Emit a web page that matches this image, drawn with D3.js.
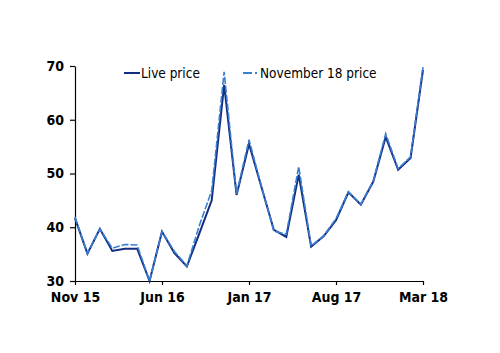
<!DOCTYPE html>
<html>
<head>
<meta charset="utf-8">
<script src="https://cdn.jsdelivr.net/npm/d3@7"></script>
<style>
  body { margin: 0; background: #fff; }
  svg text { font-family: "DejaVu Sans Condensed", "DejaVu Sans", sans-serif; font-stretch: condensed; }
  .axis text { font-size: 14px; font-weight: bold; fill: #000; }
  .axis path, .axis line { stroke: #000; stroke-width: 1.2; }
  .legend text { font-size: 13.5px; fill: #000; }
</style>
</head>
<body>
<div id="chart"></div>
<script>
// monthly points, Nov 15 .. Mar 18
var months = d3.range(0, 29);
var tickMonths = [0, 7, 14, 21, 28];
var tickLabels = ["Nov 15", "Jun 16", "Jan 17", "Aug 17", "Mar 18"];
var yTicks = [30, 40, 50, 60, 70];

var livePrice = [41.7, 35.1, 39.7, 35.6, 36.0, 36.0, 30.0, 39.2, 35.2, 32.7,
                 38.8, 45.0, 66.5, 46.0, 55.5, 47.5, 39.5, 38.2, 49.8, 36.4,
                 38.3, 41.3, 46.5, 44.2, 48.5, 56.8, 50.7, 52.9, 69.3];
var novPrice  = [41.9, 35.1, 39.7, 36.1, 36.8, 36.7, 30.0, 39.2, 35.5, 32.8,
                 40.3, 46.8, 68.9, 46.2, 56.3, 47.6, 39.3, 38.7, 51.3, 36.5,
                 38.4, 41.6, 46.6, 44.3, 48.6, 57.4, 50.9, 53.1, 69.8];

var seriesNames = ["Live price", "November 18 price"];

var margin = {top: 66, right: 77, bottom: 72, left: 75},
    width = 500 - margin.left - margin.right,
    height = 353 - margin.top - margin.bottom;

var svg = d3.select("#chart").append("svg")
    .attr("width", 500)
    .attr("height", 353)
    .append("g")
    .attr("transform", "translate(" + margin.left + "," + margin.top + ")");

var x = d3.scaleLinear().domain([0, 28]).range([0, width]);
var y = d3.scaleLinear().domain([30, 70]).range([height, 0]);

svg.append("g")
    .attr("class", "axis")
    .attr("transform", "translate(0," + height + ")")
    .call(d3.axisBottom(x).tickValues(tickMonths)
        .tickFormat(function(d, i) { return tickLabels[i]; })
        .tickSize(4).tickSizeOuter(0).tickPadding(7));

svg.append("g")
    .attr("class", "axis")
    .call(d3.axisLeft(y).tickValues(yTicks).tickSize(5).tickSizeOuter(0).tickPadding(6));

var line = d3.line()
    .x(function(d, i) { return x(months[i]); })
    .y(function(d) { return y(d); });

svg.append("path")
    .datum(livePrice)
    .attr("fill", "none")
    .attr("stroke", "#132d80")
    .attr("stroke-width", 2)
    .attr("d", line);

// the dashed line sits on top of the live one
svg.append("path")
    .datum(novPrice)
    .attr("fill", "none")
    .attr("stroke", "#3a7fd2")
    .attr("stroke-width", 1.6)
    .attr("stroke-dasharray", "7,2")
    .attr("d", line);

// legend
var legend = svg.append("g").attr("class", "legend");
var legendX = [49, 168];
var colors = ["#132d80", "#3a7fd2"];
var dashes = [null, "9,3,2,3"];
seriesNames.forEach(function(name, i) {
    var g = legend.append("g").attr("transform", "translate(" + legendX[i] + ",7)");
    g.append("line")
        .attr("x1", 0).attr("x2", 16)
        .attr("stroke", colors[i])
        .attr("stroke-width", 2)
        .attr("stroke-dasharray", dashes[i]);
    g.append("text")
        .attr("x", 17)
        .attr("dy", "0.35em")
        .text(name);
});
</script>
</body>
</html>
